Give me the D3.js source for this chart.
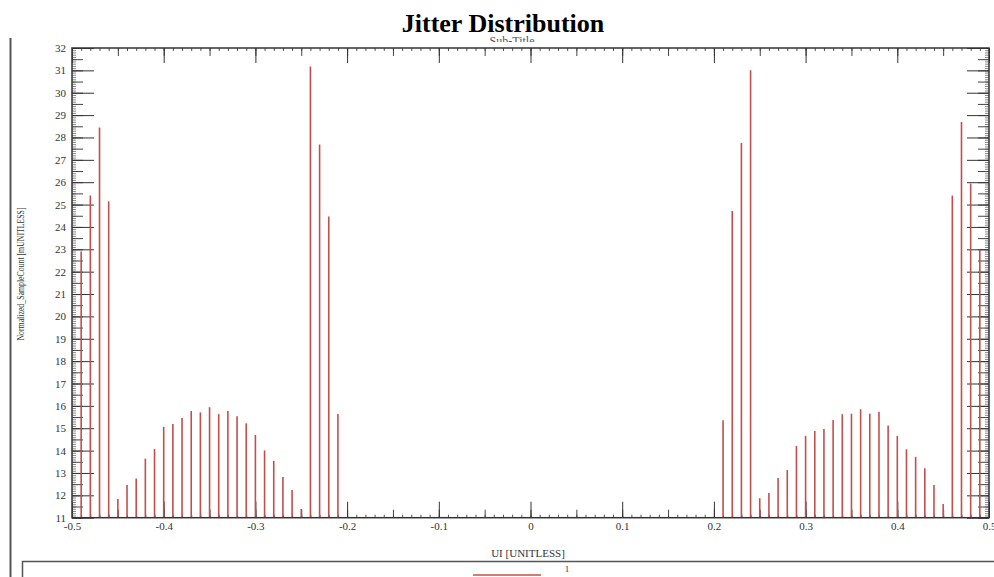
<!DOCTYPE html>
<html>

<head>
    <meta charset="utf-8">
    <title>Jitter Distribution</title>
    <script src="https://d3js.org/d3.v7.min.js"></script>
    <style>
        body { margin: 0; background: #fff; }
        svg { display: block; }
        .tick text { font-family: "Liberation Serif", "DejaVu Serif", serif; font-size: 11px; fill: #333; }
    </style>
</head>

<body>
    <div id="chart"></div>
    <script>
        // bin centres (UI) and normalized sample counts
        var uiBins = [-0.49, -0.48, -0.47, -0.46, -0.45, -0.44, -0.43, -0.42, -0.41, -0.40,
            -0.39, -0.38, -0.37, -0.36, -0.35, -0.34, -0.33, -0.32, -0.31, -0.30,
            -0.29, -0.28, -0.27, -0.26, -0.25, -0.24, -0.23, -0.22, -0.21,
            0.21, 0.22, 0.23, 0.24, 0.25, 0.26, 0.27, 0.28, 0.29, 0.30,
            0.31, 0.32, 0.33, 0.34, 0.35, 0.36, 0.37, 0.38, 0.39, 0.40,
            0.41, 0.42, 0.43, 0.44, 0.45, 0.46, 0.47, 0.48, 0.49];
        var sampleCounts = [22.9, 25.4, 28.45, 25.15, 11.84, 12.46, 12.75, 13.64, 14.07, 15.06,
            15.19, 15.46, 15.77, 15.71, 15.94, 15.63, 15.77, 15.54, 15.22, 14.70,
            14.01, 13.54, 12.82, 12.24, 11.39, 31.17, 27.68, 24.47, 15.64,
            15.36, 24.71, 27.75, 31.0, 11.87, 12.1, 12.78, 13.13, 14.21, 14.66,
            14.88, 14.97, 15.37, 15.63, 15.65, 15.85, 15.65, 15.74, 15.12, 14.66,
            14.06, 13.72, 13.21, 12.46, 11.61, 25.41, 28.69, 25.94, 22.98];
        var xMajorTicks = [-0.5, -0.4, -0.3, -0.2, -0.1, 0, 0.1, 0.2, 0.3, 0.4, 0.5];
        var yMajorTicks = [11, 12, 13, 14, 15, 16, 17, 18, 19, 20, 21, 22, 23, 24, 25, 26, 27, 28, 29, 30, 31, 32];
        var seriesName = "1";

        var W = 994, H = 577;
        var plotLeft = 72, plotRight = 989, plotTop = 48, plotBottom = 517.7;
        var barColor = "#c0504d";

        var x = d3.scaleLinear().domain([-0.5, 0.5]).range([plotLeft, plotRight]);
        var y = d3.scaleLinear().domain([11, 32]).range([plotBottom, plotTop]);

        var svg = d3.select("#chart").append("svg")
            .attr("width", W)
            .attr("height", H);

        // tick value sets
        var xMinor = d3.range(-50, 51).map(function (i) { return i / 100; });
        var xMid = d3.range(-10, 11).map(function (i) { return i / 20; });
        var yMinor = d3.range(110, 321).map(function (i) { return i / 10; });
        var yMid = d3.range(22, 65).map(function (i) { return i / 2; });

        function fmt(d) { return String(+d.toFixed(1)); }

        // helper to add a tick-only axis
        function ticks(axis, tx, ty, color, labels) {
            var g = svg.append("g")
                .attr("transform", "translate(" + tx + "," + ty + ")")
                .call(axis);
            g.select(".domain").remove();
            g.selectAll(".tick line").attr("stroke", color).attr("stroke-width", 1);
            if (!labels) g.selectAll(".tick text").remove();
            return g;
        }

        // bottom axis
        ticks(d3.axisBottom(x).tickValues(xMinor).tickSize(-3).tickFormat(""), 0, plotBottom, "#555");
        ticks(d3.axisBottom(x).tickValues(xMid).tickSize(-8).tickFormat(""), 0, plotBottom, "#444");
        ticks(d3.axisBottom(x).tickValues(xMajorTicks).tickSize(-16).tickPadding(5).tickFormat(fmt), 0, plotBottom, "#333", true);

        // top axis
        ticks(d3.axisTop(x).tickValues(xMinor).tickSize(-3).tickFormat(""), 0, plotTop, "#555");
        ticks(d3.axisTop(x).tickValues(xMid).tickSize(-8).tickFormat(""), 0, plotTop, "#444");
        ticks(d3.axisTop(x).tickValues(xMajorTicks).tickSize(-15).tickFormat(""), 0, plotTop, "#333");

        // left axis
        ticks(d3.axisLeft(y).tickValues(yMinor).tickSize(-4).tickFormat(""), plotLeft, 0, "#888");
        ticks(d3.axisLeft(y).tickValues(yMid).tickSize(-11).tickFormat(""), plotLeft, 0, "#444");
        ticks(d3.axisLeft(y).tickValues(yMajorTicks).tickSize(-22).tickPadding(6).tickFormat(d3.format("d")), plotLeft, 0, "#333", true);

        // right axis
        ticks(d3.axisRight(y).tickValues(yMinor).tickSize(-4).tickFormat(""), plotRight, 0, "#888");
        ticks(d3.axisRight(y).tickValues(yMid).tickSize(-11).tickFormat(""), plotRight, 0, "#444");
        ticks(d3.axisRight(y).tickValues(yMajorTicks).tickSize(-22).tickFormat(""), plotRight, 0, "#333");

        // histogram bars
        svg.append("g").selectAll("line")
            .data(uiBins)
            .enter()
            .append("line")
            .attr("x1", function (d) { return x(d); })
            .attr("x2", function (d) { return x(d); })
            .attr("y1", y(11))
            .attr("y2", function (d, i) { return y(sampleCounts[i]); })
            .attr("stroke", barColor)
            .attr("stroke-width", 1.6);

        // plot frame
        svg.append("rect")
            .attr("x", plotLeft)
            .attr("y", plotTop)
            .attr("width", plotRight - plotLeft)
            .attr("height", plotBottom - plotTop)
            .attr("fill", "none")
            .attr("stroke", "#333")
            .attr("stroke-width", 1.5);

        // title + clipped sub-title
        svg.append("clipPath").attr("id", "subclip")
            .append("rect").attr("x", 0).attr("y", 0).attr("width", W).attr("height", 42);
        svg.append("text")
            .attr("x", 512)
            .attr("y", 45)
            .attr("text-anchor", "middle")
            .attr("clip-path", "url(#subclip)")
            .style("font-family", "Liberation Serif, serif")
            .style("font-size", "12px")
            .style("fill", "#555")
            .text("Sub-Title");
        svg.append("text")
            .attr("x", 503)
            .attr("y", 32)
            .attr("text-anchor", "middle")
            .style("font-family", "Liberation Serif, serif")
            .style("font-weight", "bold")
            .style("font-size", "26px")
            .style("fill", "#000")
            .text("Jitter Distribution");

        // axis titles
        svg.append("text")
            .attr("x", 528)
            .attr("y", 557)
            .attr("text-anchor", "middle")
            .style("font-family", "Liberation Serif, serif")
            .style("font-size", "11px")
            .style("fill", "#333")
            .text("UI [UNITLESS]");
        svg.append("text")
            .attr("transform", "translate(24,274) rotate(-90)")
            .attr("text-anchor", "middle")
            .attr("textLength", 133)
            .attr("lengthAdjust", "spacingAndGlyphs")
            .style("font-family", "Liberation Serif, serif")
            .style("font-size", "11px")
            .style("fill", "#333")
            .text("Normalized_SampleCount [mUNITLESS]");

        // outer frame line on the left
        svg.append("line")
            .attr("x1", 10.5).attr("x2", 10.5)
            .attr("y1", 38).attr("y2", H)
            .attr("stroke", "#555")
            .attr("stroke-width", 2);

        // legend box
        svg.append("rect")
            .attr("x", 22.5)
            .attr("y", 561.5)
            .attr("width", W)
            .attr("height", 40)
            .attr("fill", "none")
            .attr("stroke", "#555")
            .attr("stroke-width", 1.5);
        svg.append("line")
            .attr("x1", 473).attr("x2", 541)
            .attr("y1", 575).attr("y2", 575)
            .attr("stroke", barColor)
            .attr("stroke-width", 1.6);
        svg.append("text")
            .attr("x", 567)
            .attr("y", 572)
            .attr("text-anchor", "middle")
            .style("font-family", "Liberation Serif, serif")
            .style("font-size", "9px")
            .style("fill", "#333")
            .text(seriesName);
    </script>
</body>

</html>
